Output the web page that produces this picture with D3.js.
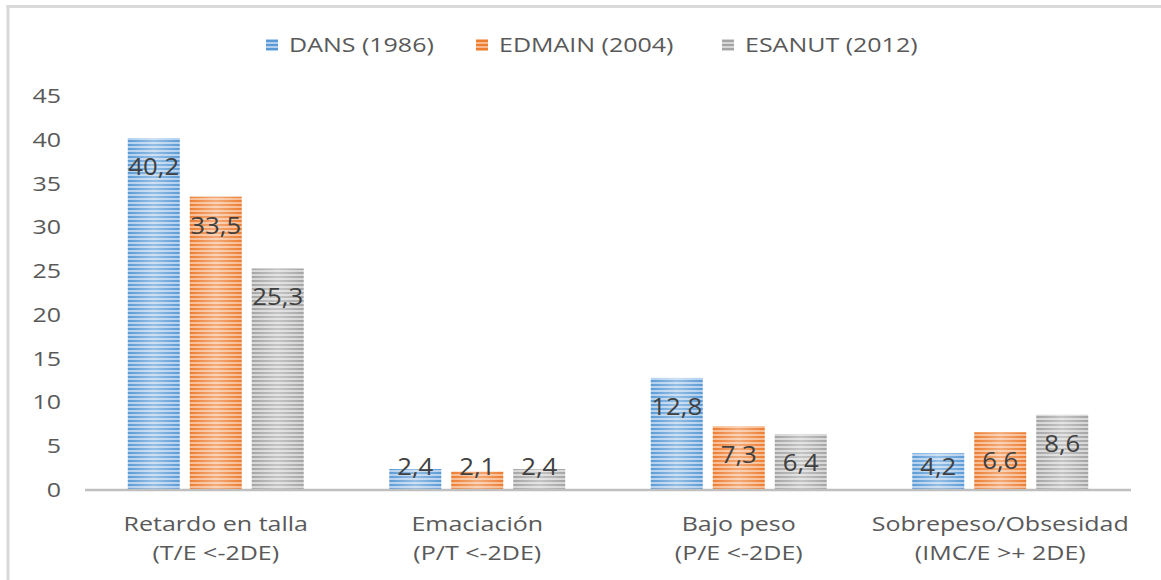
<!DOCTYPE html>
<html>
<head>
<meta charset="utf-8">
<script src="https://cdn.jsdelivr.net/npm/d3@7"></script>
<style>
  html, body { margin: 0; padding: 0; background: #fff; }
  svg { display: block; }
  text { font-family: "Open Sans", sans-serif; }
</style>
</head>
<body>
<svg id="chart" width="1161" height="580"></svg>
<script>
const categories = [
  ["Retardo en talla", "(T/E <-2DE)"],
  ["Emaciación", "(P/T <-2DE)"],
  ["Bajo peso", "(P/E <-2DE)"],
  ["Sobrepeso/Obsesidad", "(IMC/E >+ 2DE)"]
];
const seriesNames = ["DANS (1986)", "EDMAIN (2004)", "ESANUT (2012)"];
const dans = [40.2, 2.4, 12.8, 4.2];
const edmain = [33.5, 2.1, 7.3, 6.6];
const esanut = [25.3, 2.4, 6.4, 8.6];
const yTicks = [0, 5, 10, 15, 20, 25, 30, 35, 40, 45];

const seriesValues = [dans, edmain, esanut];
const colors = [
  { dark: "#5b9bd5", light: "#b4d0ee" },
  { dark: "#ed7d31", light: "#f7bc93" },
  { dark: "#a5a5a5", light: "#d6d6d6" }
];

const svg = d3.select("#chart");
const SX = 1.25;

function stext(sel, x, y, sx) {
  return sel.attr("x", 0).attr("y", 0)
    .attr("transform", `translate(${x},${y}) scale(${sx},1)`);
}

// frame
svg.append("line").attr("x1", 8).attr("x2", 8).attr("y1", 5).attr("y2", 580)
  .attr("stroke", "#d9d9d9").attr("stroke-width", 3);
svg.append("line").attr("x1", 6.5).attr("x2", 1161).attr("y1", 6.5).attr("y2", 6.5)
  .attr("stroke", "#d9d9d9").attr("stroke-width", 3);

// patterns
const defs = svg.append("defs");
colors.forEach((c, i) => {
  const p = defs.append("pattern").attr("id", "pat" + i)
    .attr("patternUnits", "userSpaceOnUse").attr("width", 8).attr("height", 4);
  p.append("rect").attr("width", 8).attr("height", 4).attr("fill", c.dark);
  p.append("rect").attr("y", 2).attr("width", 8).attr("height", 2).attr("fill", c.light);
});
const g = defs.append("linearGradient").attr("id", "shine").attr("x1", 0).attr("x2", 1).attr("y1", 0).attr("y2", 0);
g.append("stop").attr("offset", "0%").attr("stop-color", "#fff").attr("stop-opacity", 0);
g.append("stop").attr("offset", "50%").attr("stop-color", "#fff").attr("stop-opacity", 0.35);
g.append("stop").attr("offset", "100%").attr("stop-color", "#fff").attr("stop-opacity", 0);

const y = d3.scaleLinear().domain([0, 45]).range([490, 96]);
const x = d3.scaleBand().domain(d3.range(categories.length)).range([85, 1131]).padding(0);
const xs = d3.scaleBand().domain(d3.range(seriesNames.length)).range([0, x.bandwidth()])
  .paddingInner(10 / 62).paddingOuter(0.69);

// y tick labels
svg.append("g").selectAll("text").data(yTicks).join("text")
  .each(function(d) { stext(d3.select(this), 61, y(d) + 7, SX); })
  .attr("text-anchor", "end").attr("font-size", 20).attr("fill", "#595959")
  .text(d => d);

// bars
const bars = [];
seriesValues.forEach((vals, si) => {
  vals.forEach((v, ci) => bars.push({ si, ci, v }));
});
const bg = svg.append("g");
bg.selectAll("rect.bar").data(bars).join("rect").attr("class", "bar")
  .attr("x", d => x(d.ci) + xs(d.si)).attr("width", xs.bandwidth())
  .attr("y", d => y(d.v)).attr("height", d => y(0) - y(d.v))
  .attr("fill", d => `url(#pat${d.si})`);
bg.selectAll("rect.shine").data(bars).join("rect").attr("class", "shine")
  .attr("x", d => x(d.ci) + xs(d.si)).attr("width", xs.bandwidth())
  .attr("y", d => y(d.v)).attr("height", d => y(0) - y(d.v))
  .attr("fill", "url(#shine)");

// baseline
svg.append("line").attr("x1", 85).attr("x2", 1131).attr("y1", 490).attr("y2", 490)
  .attr("stroke", "#bfbfbf").attr("stroke-width", 2.5);

// data labels
svg.append("g").selectAll("text").data(bars).join("text")
  .each(function(d) {
    const cy = Math.min(y(d.v) + 29, 467);
    stext(d3.select(this), x(d.ci) + xs(d.si) + xs.bandwidth() / 2, cy + 8, 1.12);
  })
  .attr("text-anchor", "middle").attr("font-size", 23).attr("fill", "#404040")
  .text(d => d3.format(".1f")(d.v).replace(".", ","));

// category labels
const cg = svg.append("g");
categories.forEach((lines, ci) => {
  lines.forEach((t, li) => {
    stext(cg.append("text"), x(ci) + x.bandwidth() / 2, 531 + li * 29, SX)
      .attr("text-anchor", "middle").attr("font-size", 20).attr("fill", "#595959")
      .text(t);
  });
});

// legend
const legX = [266, 476, 722];
const lg = svg.append("g");
seriesNames.forEach((n, i) => {
  lg.append("rect").attr("x", legX[i]).attr("y", 39).attr("width", 12).attr("height", 12)
    .attr("fill", `url(#pat${i})`);
  stext(lg.append("text"), legX[i] + 23, 52, SX)
    .attr("font-size", 20).attr("fill", "#595959").text(n);
});
</script>
</body>
</html>
